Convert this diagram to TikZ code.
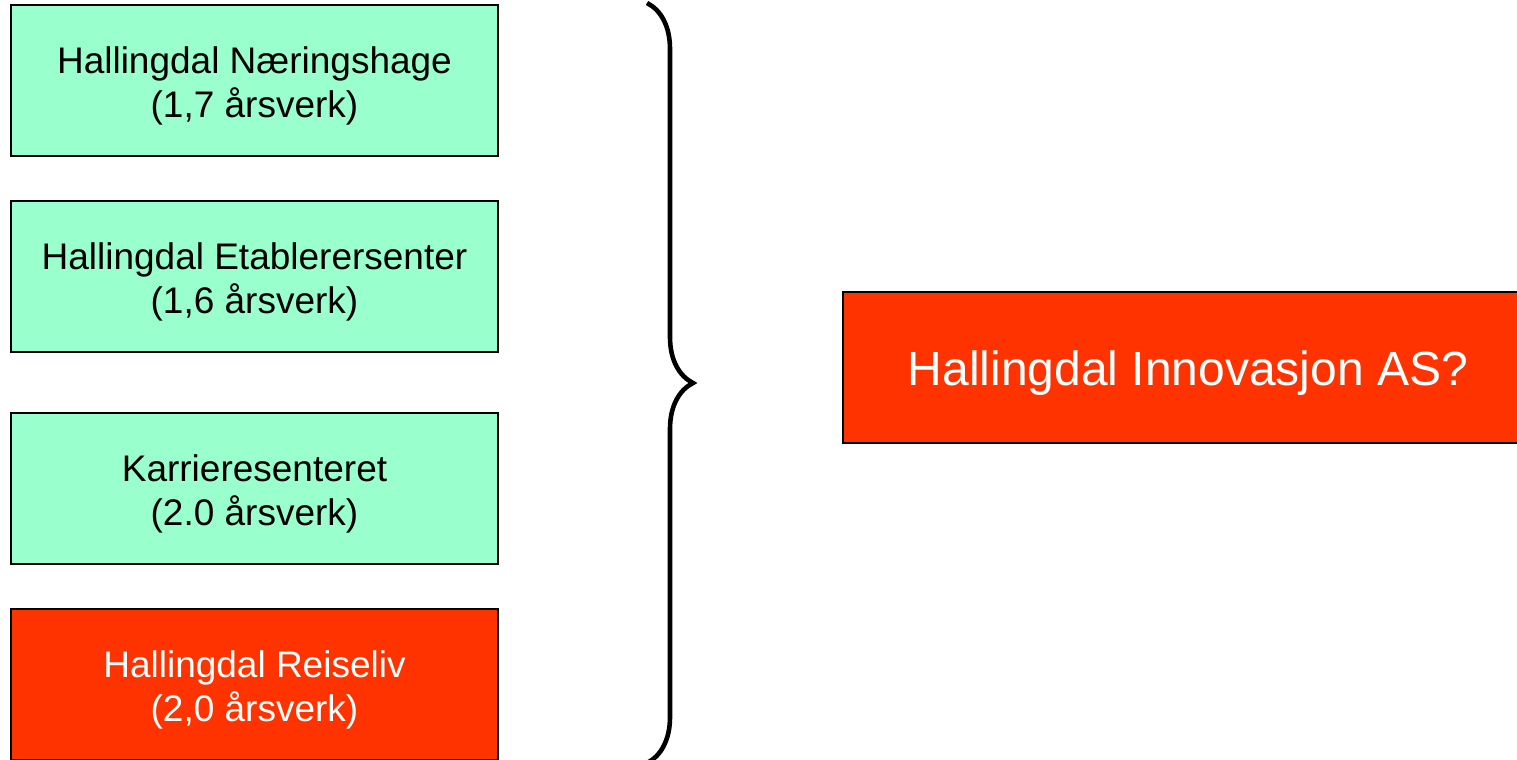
\documentclass[tikz,border=0pt]{standalone}
\usepackage{fontspec}
\setmainfont{Liberation Sans}
\usetikzlibrary{positioning}
\usetikzlibrary{decorations.pathreplacing}
\definecolor{unitgreen}{HTML}{99FFCC}
\definecolor{unitred}{HTML}{FF3300}

\begin{document}
\begin{tikzpicture}
  [
    x=0.5pt, y=-0.5pt,
    unit/.style = {draw, rectangle, line width=1pt, fill=unitgreen, inner sep=0pt,
                   minimum width=243.5pt, minimum height=75.5pt, align=center,
                   font=\fontsize{18.5}{22}\selectfont},
    redunit/.style = {unit, fill=unitred, text=white},
    bigunit/.style = {redunit, minimum width=345pt, font=\fontsize{24}{28}\selectfont},
  ]

  \useasboundingbox (0,0) rectangle (1517,760);
  \clip (0,0) rectangle (1517,760);

  % the units
  \node (naeringshage) at (254.5,80.5) [unit] {\rule{0pt}{19pt}Hallingdal Næringshage\\(1,7 årsverk)};
  \node (etablerer) at (254.5,276.5) [unit] {\rule{0pt}{19pt}Hallingdal Etablerersenter\\(1,6 årsverk)};
  \node (karriere) at (254.5,488.5) [unit] {\rule{0pt}{19pt}Karrieresenteret\\(2.0 årsverk)};
  \node (reiseliv) at (254.5,684.5) [redunit] {\rule{0pt}{19pt}Hallingdal Reiseliv\\(2,0 årsverk)};

  % the brace
  \coordinate (bracetop) at (647,3);
  \coordinate (bracebot) at (647,763);
  \draw[line width=2.3pt, decorate, decoration={brace, amplitude=23pt}] (bracetop) -- (bracebot);

  % merged unit
  \node (innovasjon) at (1188,367) [bigunit] {\rule{0pt}{23pt}Hallingdal Innovasjon AS?};
\end{tikzpicture}
\end{document}
